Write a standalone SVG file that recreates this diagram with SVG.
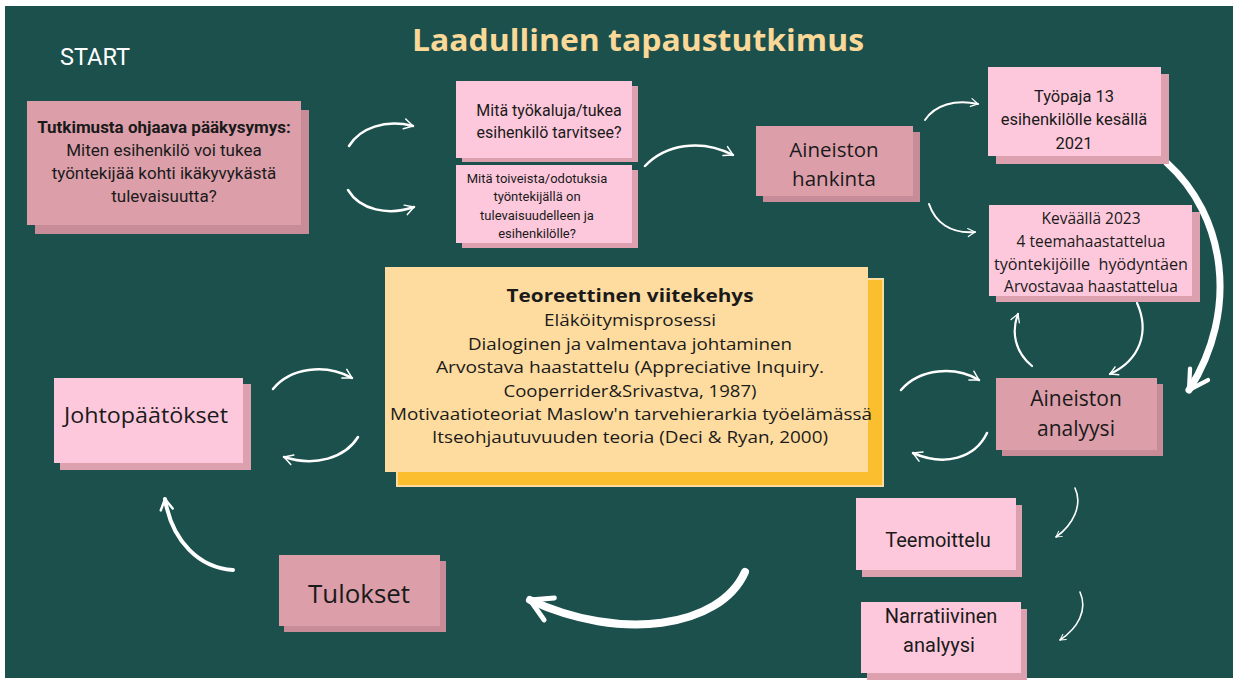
<svg xmlns="http://www.w3.org/2000/svg" width="1233" height="684" viewBox="0 0 1233 684">
<defs>
<style>
.bg{fill:#1c504d}
.dp{fill:#dc9faa}
.dps{fill:#c88c98}
.lp{fill:#fec8dc}
.lps{fill:#dca0ae}
.t{font-family:Roboto,"Liberation Sans",sans-serif;fill:#1a1a1a;text-anchor:middle}
.g{font-family:"Open Sans","DejaVu Sans",sans-serif;fill:#1a1a1a;text-anchor:middle}
.ar{fill:none;stroke:#ffffff;stroke-linecap:round;stroke-linejoin:round}
</style>
<marker id="ah" viewBox="0 0 10 10" refX="8.5" refY="5" markerWidth="5" markerHeight="5" orient="auto" markerUnits="strokeWidth">
<path d="M1.5,1 L8.5,5 L1.5,9" fill="none" stroke="#ffffff" stroke-width="1.2" stroke-linecap="round" stroke-linejoin="round"/>
</marker>
<marker id="ahb" viewBox="0 0 10 10" refX="8.5" refY="5" markerWidth="3.8" markerHeight="3.8" orient="auto" markerUnits="strokeWidth">
<path d="M1.5,1 L8.5,5 L1.5,9" fill="none" stroke="#ffffff" stroke-width="1.6" stroke-linecap="round" stroke-linejoin="round"/>
</marker>
</defs>
<rect x="0" y="0" width="1233" height="684" fill="#ffffff"/>
<rect class="bg" x="5" y="6" width="1228" height="672"/>

<text x="638" y="51" font-family="'Open Sans','DejaVu Sans',sans-serif" font-weight="700" font-size="31" fill="#f9d898" text-anchor="middle" textLength="452" lengthAdjust="spacingAndGlyphs">Laadullinen tapaustutkimus</text>
<text x="60" y="65" font-family="Roboto,'Liberation Sans',sans-serif" font-size="23.5" fill="#ffffff">START</text>

<g id="connectors">
<path class="ar" stroke-width="2.5" marker-end="url(#ah)" d="M349,146 C360,128 385,119 413,126"/>
<path class="ar" stroke-width="2.5" marker-end="url(#ah)" d="M348,190 C360,210 388,216 414,207"/>
<path class="ar" stroke-width="2.5" marker-end="url(#ah)" d="M645,166 C665,145 700,138 733,155"/>
<path class="ar" stroke-width="2" marker-end="url(#ah)" d="M925,120 C935,105 955,99 978,104"/>
<path class="ar" stroke-width="2" marker-end="url(#ah)" d="M929,204 C935,222 950,234 975,232"/>
<path class="ar" stroke-width="2.2" marker-end="url(#ah)" d="M1137,303 C1150,332 1140,360 1110,374"/>
<path class="ar" stroke-width="2.2" marker-end="url(#ah)" d="M1032,366 C1015,352 1011,332 1018,314"/>
<path class="ar" stroke-width="2.5" marker-end="url(#ah)" d="M901,390 C920,368 955,366 979,380"/>
<path class="ar" stroke-width="2.5" marker-end="url(#ah)" d="M987,433 C975,458 945,467 913,453"/>
<path class="ar" stroke-width="2.5" marker-end="url(#ah)" d="M273,389 C290,368 325,363 352,378"/>
<path class="ar" stroke-width="2.5" marker-end="url(#ah)" d="M358,437 C345,458 315,467 284,457"/>
<path class="ar" stroke-width="1.6" marker-end="url(#ah)" d="M1075,488 C1083,505 1073,525 1056,537"/>
<path class="ar" stroke-width="1.6" marker-end="url(#ah)" d="M1080,592 C1088,610 1078,628 1060,640"/>
<path class="ar" stroke-width="4" marker-end="url(#ahb)" d="M233,570 C200,568 172,542 165,499"/>
<path class="ar" stroke-width="8" marker-end="url(#ahb)" d="M745,572 C720,628 620,642 530,600"/>
<path class="ar" stroke-width="7" marker-end="url(#ahb)" d="M1167,163 C1225,215 1240,310 1189,390"/>
</g>

<g id="n-kysymys">
<rect class="dps" x="35" y="110" width="274" height="124"/>
<rect class="dp" x="27" y="101" width="274" height="124"/>
<text class="t" x="164" y="133" font-size="17" font-weight="700">Tutkimusta ohjaava pääkysymys:</text>
<text class="t" x="164" y="156" font-size="17">Miten esihenkilö voi tukea</text>
<text class="t" x="164" y="179" font-size="17">työntekijää kohti ikäkyvykästä</text>
<text class="t" x="164" y="202" font-size="17">tulevaisuutta?</text>
</g>

<g id="n-tyokaluja">
<rect class="lps" x="462" y="86" width="176" height="76"/>
<rect class="lp" x="456" y="81" width="176" height="77"/>
<text class="t" x="549" y="116" font-size="16">Mitä työkaluja/tukea</text>
<text class="t" x="549" y="138" font-size="16">esihenkilö tarvitsee?</text>
</g>

<g id="n-toiveita">
<rect class="lps" x="462" y="170" width="176" height="78"/>
<rect class="lp" x="456" y="165" width="176" height="78"/>
<text class="t" x="537" y="183" font-size="13">Mitä toiveista/odotuksia</text>
<text class="t" x="537" y="201" font-size="13">työntekijällä on</text>
<text class="t" x="537" y="220" font-size="13">tulevaisuudelleen ja</text>
<text class="t" x="537" y="238" font-size="13">esihenkilölle?</text>
</g>

<g id="n-hankinta">
<rect class="dps" x="763" y="132" width="157" height="70"/>
<rect class="dp" x="756" y="126" width="157" height="70"/>
<text class="g" x="834" y="157" font-size="20.5">Aineiston</text>
<text class="g" x="834" y="186" font-size="20.5">hankinta</text>
</g>

<g id="n-tyopaja">
<rect class="lps" x="996" y="74" width="173" height="90"/>
<rect class="lp" x="988" y="67" width="173" height="89"/>
<text class="t" x="1074" y="102" font-size="16.5">Työpaja 13</text>
<text class="t" x="1074" y="125" font-size="16.5">esihenkilölle kesällä</text>
<text class="t" x="1074" y="149" font-size="16.5">2021</text>
</g>

<g id="n-kevaalla">
<rect class="lps" x="996" y="212" width="204" height="90"/>
<rect class="lp" x="989" y="205" width="203" height="91"/>
<text class="g" x="1091" y="224" font-size="15.5">Keväällä 2023</text>
<text class="g" x="1091" y="247" font-size="15.5">4 teemahaastattelua</text>
<text class="g" x="1091" y="270" font-size="15.5" xml:space="preserve" textLength="194" lengthAdjust="spacingAndGlyphs">työntekijöille  hyödyntäen</text>
<text class="g" x="1091" y="292" font-size="15.5">Arvostavaa haastattelua</text>
</g>

<g id="n-viitekehys">
<rect x="397" y="279" width="486" height="207" fill="#fbbe2e" stroke="#fedc9f" stroke-width="2"/>
<rect x="385" y="267" width="483" height="205" fill="#fedc9f"/>
<text class="g" x="630" y="302" font-size="18" font-weight="700" textLength="247" lengthAdjust="spacingAndGlyphs">Teoreettinen viitekehys</text>
<text class="g" x="630" y="326" font-size="16" textLength="172" lengthAdjust="spacingAndGlyphs">Eläköitymisprosessi</text>
<text class="g" x="630" y="350" font-size="16" textLength="324" lengthAdjust="spacingAndGlyphs">Dialoginen ja valmentava johtaminen</text>
<text class="g" x="630" y="373" font-size="16" textLength="388" lengthAdjust="spacingAndGlyphs">Arvostava haastattelu (Appreciative Inquiry.</text>
<text class="g" x="630" y="397" font-size="16" textLength="253" lengthAdjust="spacingAndGlyphs">Cooperrider&amp;Srivastva, 1987)</text>
<text class="g" x="631" y="420" font-size="16" textLength="482" lengthAdjust="spacingAndGlyphs">Motivaatioteoriat Maslow'n tarvehierarkia työelämässä</text>
<text class="g" x="630" y="443" font-size="16" textLength="396" lengthAdjust="spacingAndGlyphs">Itseohjautuvuuden teoria (Deci &amp; Ryan, 2000)</text>
</g>

<g id="n-analyysi">
<rect class="dps" x="1002" y="384" width="161" height="72"/>
<rect class="dp" x="996" y="378" width="161" height="72"/>
<text class="g" x="1076" y="406" font-size="21">Aineiston</text>
<text class="g" x="1076" y="436" font-size="21">analyysi</text>
</g>

<g id="n-johtopaatokset">
<rect class="lps" x="60" y="384" width="191" height="86"/>
<rect class="lp" x="54" y="378" width="189" height="85"/>
<text class="g" x="146" y="423" font-size="22" textLength="164" lengthAdjust="spacingAndGlyphs">Johtopäätökset</text>
</g>

<g id="n-tulokset">
<rect class="dps" x="284" y="561" width="162" height="71"/>
<rect class="dp" x="279" y="555" width="161" height="71"/>
<text class="g" x="359" y="603" font-size="25" textLength="102" lengthAdjust="spacingAndGlyphs">Tulokset</text>
</g>

<g id="n-teemoittelu">
<rect class="lps" x="862" y="505" width="160" height="72"/>
<rect class="lp" x="856" y="498" width="160" height="72"/>
<text class="t" x="938" y="547" font-size="20">Teemoittelu</text>
</g>

<g id="n-narratiivinen">
<rect class="lps" x="867" y="609" width="160" height="71"/>
<rect class="lp" x="861" y="602" width="160" height="71"/>
<text class="t" x="941" y="623" font-size="20">Narratiivinen</text>
<text class="t" x="939" y="652" font-size="20">analyysi</text>
</g>
</svg>
